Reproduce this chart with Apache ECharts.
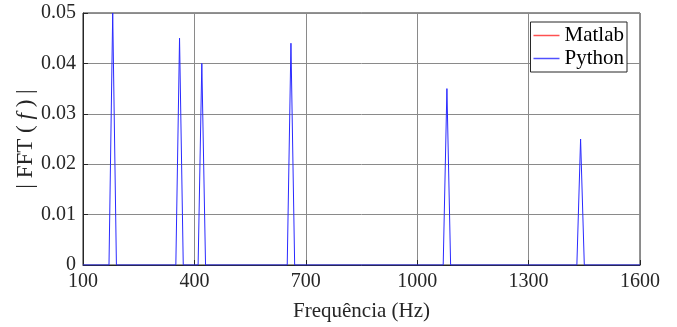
<!DOCTYPE html>
<html>
<head>
<meta charset="utf-8">
<script src="https://cdn.jsdelivr.net/npm/echarts@6/dist/echarts.min.js"></script>
<style>
  html, body { margin: 0; padding: 0; background: #fff; }
  #chart { width: 677px; height: 327px; }
</style>
</head>
<body>
<div id="chart"></div>
<script>
// frequency samples (Hz) and |FFT(f)| amplitudes
const freqs = [100, 170, 180, 190, 350, 360, 370, 410, 420, 430, 650, 660, 670, 1070, 1080, 1090, 1430, 1440, 1450, 1600];
const matlabVals = [0, 0, 0.05, 0, 0, 0.045, 0, 0, 0.04, 0, 0, 0.044, 0, 0, 0.035, 0, 0, 0.025, 0, 0];
const pythonVals = [0, 0, 0.05, 0, 0, 0.045, 0, 0, 0.04, 0, 0, 0.044, 0, 0, 0.035, 0, 0, 0.025, 0, 0];
const xTicks = [100, 400, 700, 1000, 1300, 1600];
const yTicks = [0, 0.01, 0.02, 0.03, 0.04, 0.05];

const font = 'Liberation Serif';
const chart = echarts.init(document.getElementById('chart'));

const pairs = (vals) => freqs.map((f, i) => [f, vals[i]]);

chart.setOption({
  animation: false,
  grid: {
    left: 83,
    right: 37,
    top: 13,
    bottom: 61,
    show: true,
    borderColor: '#262626',
    borderWidth: 1,
  },
  legend: {
    right: 50,
    top: 22,
    orient: 'vertical',
    align: 'left',
    icon: 'rect',
    itemWidth: 26,
    itemHeight: 1.5,
    itemGap: 2,
    padding: [3, 3, 3, 3],
    borderColor: '#262626',
    borderWidth: 1,
    backgroundColor: '#fff',
    textStyle: { fontFamily: font, fontSize: 21, color: '#000' },
    data: [
      { name: 'Matlab', itemStyle: { color: '#ff5050', opacity: 1 } },
      { name: 'Python', itemStyle: { color: '#5050ff', opacity: 1 } },
    ],
  },
  xAxis: {
    type: 'value',
    min: xTicks[0],
    max: xTicks[xTicks.length - 1],
    interval: 300,
    name: 'Frequência (Hz)',
    nameLocation: 'middle',
    nameGap: 36,
    nameMoveOverlap: false,
    nameTextStyle: { fontFamily: font, fontSize: 21, color: '#262626' },
    axisLine: { show: true, lineStyle: { color: '#262626' } },
    axisTick: { show: true, inside: true, length: 5, lineStyle: { color: '#262626' } },
    axisLabel: { fontFamily: font, fontSize: 20, color: '#262626', margin: 7, formatter: (v) => String(v) },
    splitLine: { show: true, lineStyle: { color: '#8a8a8a', width: 1 } },
  },
  yAxis: {
    type: 'value',
    min: yTicks[0],
    max: yTicks[yTicks.length - 1],
    interval: 0.01,
    name: '| FFT ( {i|f} ) |',
    nameLocation: 'middle',
    nameGap: 46,
    nameMoveOverlap: false,
    nameTextStyle: {
      fontFamily: font,
      fontSize: 23,
      color: '#262626',
      rich: { i: { fontFamily: font, fontSize: 23, fontStyle: 'italic', color: '#262626' } },
    },
    axisLine: { show: true, lineStyle: { color: '#262626' } },
    axisTick: { show: true, inside: true, length: 5, lineStyle: { color: '#262626' } },
    axisLabel: { fontFamily: font, fontSize: 20, color: '#262626', margin: 7 },
    splitLine: { show: true, lineStyle: { color: '#8a8a8a', width: 1 } },
  },
  series: [
    {
      // same data as Python, sits underneath it
      name: 'Matlab',
      type: 'line',
      data: pairs(matlabVals),
      showSymbol: false,
      color: '#ff0000',
      lineStyle: { width: 1, color: '#ff0000', opacity: 0 },
    },
    {
      name: 'Python',
      type: 'line',
      data: pairs(pythonVals),
      showSymbol: false,
      color: '#0000ff',
      lineStyle: { width: 1, color: '#2a2aff' },
    },
  ],
});
</script>
</body>
</html>
